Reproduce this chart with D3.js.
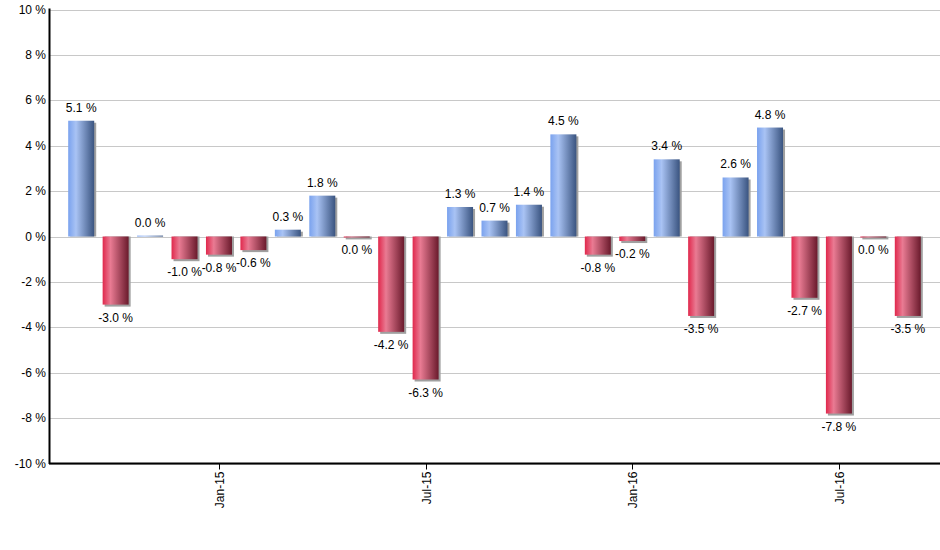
<!DOCTYPE html>
<html><head><meta charset="utf-8">
<script src="https://cdn.jsdelivr.net/npm/d3@7"></script>
<style>
body{margin:0;background:#fff;}
svg text{font-family:"Liberation Sans",Arial,sans-serif;}
</style></head>
<body><svg id="c" width="940" height="550"></svg>
<script>
const months = ["Sep-14","Oct-14","Nov-14","Dec-14","Jan-15","Feb-15","Mar-15","Apr-15","May-15","Jun-15","Jul-15","Aug-15","Sep-15","Oct-15","Nov-15","Dec-15","Jan-16","Feb-16","Mar-16","Apr-16","May-16","Jun-16","Jul-16","Aug-16","Sep-16"];
const values = [5.1,-3.0,0.04,-1.0,-0.8,-0.6,0.3,1.8,-0.04,-4.2,-6.3,1.3,0.7,1.4,4.5,-0.8,-0.2,3.4,-3.5,2.6,4.8,-2.7,-7.8,-0.04,-3.5];
const yTicks = [-10,-8,-6,-4,-2,0,2,4,6,8,10];
const xTickLabels = ["Jan-15","Jul-15","Jan-16","Jul-16"];

const svg = d3.select("#c");
const axisX0 = 49, plotRight = 940, yTop = 9.5, yBot = 463.5;
const y = d3.scaleLinear().domain([-10,10]).range([yBot,yTop]);
const x = d3.scaleBand().domain(months).range([64,925]).paddingInner(0.245).paddingOuter(0.122);

const defs = svg.append("defs");
function grad(id, stops){
  const g = defs.append("linearGradient").attr("id",id).attr("x1","0").attr("x2","1").attr("y1","0").attr("y2","0");
  stops.forEach(s=>g.append("stop").attr("offset",s[0]).attr("stop-color",s[1]));
}
grad("gBlue",[[0,"#7aa2ee"],[0.3,"#a9c3f4"],[1,"#3a5480"]]);
grad("gRed",[[0,"#e0284c"],[0.3,"#e97b93"],[1,"#6a1a2c"]]);

// gridlines
svg.append("g").selectAll("line").data(yTicks).join("line")
  .attr("x1",axisX0).attr("x2",plotRight)
  .attr("y1",d=>Math.round(y(d))+0.5).attr("y2",d=>Math.round(y(d))+0.5)
  .attr("stroke","#c8c8c8").attr("stroke-width",1);

// y labels
svg.append("g").selectAll("text").data(yTicks).join("text")
  .attr("x",46).attr("y",d=>y(d)+4)
  .attr("text-anchor","end").attr("font-size",12).attr("fill","#000")
  .text(d=>d+" %");

// shadows
const bars = svg.append("g");
bars.selectAll("rect.sh").data(values).join("rect").attr("class","sh")
  .attr("x",(d,i)=>x(months[i])+2)
  .attr("y",d=>Math.min(y(d),y(0))+(d>=0?2:0))
  .attr("width",x.bandwidth())
  .attr("height",d=>Math.abs(y(d)-y(0))+ (d>=0?-2:2))
  .attr("fill","#a0a0a0");
bars.selectAll("rect.b").data(values).join("rect").attr("class","b")
  .attr("x",(d,i)=>x(months[i]))
  .attr("y",d=>Math.min(y(d),y(0)))
  .attr("width",x.bandwidth())
  .attr("height",d=>Math.max(1,Math.abs(y(d)-y(0))))
  .attr("fill",d=>d>=0?"url(#gBlue)":"url(#gRed)");

// value labels
svg.append("g").selectAll("text").data(values).join("text")
  .attr("x",(d,i)=>x(months[i])+x.bandwidth()/2)
  .attr("y",d=> d>=0 ? y(d)-9 : y(d)+17)
  .attr("text-anchor","middle").attr("font-size",12).attr("fill","#000")
  .text(d=>(Math.abs(d)<0.05?"0.0":d.toFixed(1))+" %");

// axes lines
svg.append("line").attr("x1",axisX0+0.5).attr("x2",axisX0+0.5).attr("y1",yTop-1).attr("y2",yBot+0.5).attr("stroke","#000").attr("stroke-width",2);
svg.append("line").attr("x1",axisX0).attr("x2",plotRight).attr("y1",yBot).attr("y2",yBot).attr("stroke","#000").attr("stroke-width",2);

// x ticks
const xt = svg.append("g").selectAll("g").data(xTickLabels).join("g")
  .attr("transform",d=>`translate(${Math.round(x(d)+x.bandwidth()/2)+0.5},${yBot})`);
xt.append("line").attr("y1",0).attr("y2",6).attr("stroke","#000");
xt.append("text").attr("transform","rotate(-90)").attr("x",-8).attr("y",4)
  .attr("text-anchor","end").attr("font-size",12).attr("fill","#000").text(d=>d);
</script></body></html>
